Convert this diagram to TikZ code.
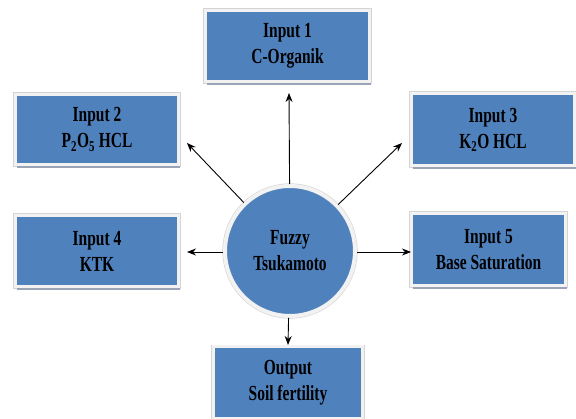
\documentclass[tikz,border=0pt]{standalone}
\usepackage{fontspec}
\setmainfont{Liberation Serif}
\newfontfamily\boxfont{Liberation Serif}[FakeStretch=0.72]
\usetikzlibrary{arrows.meta,shadows}
\definecolor{boxblue}{HTML}{4F81BD}
\definecolor{boxrim}{HTML}{F2F2F2}
\definecolor{rimedge}{HTML}{D4D4D4}
\definecolor{shadowgray}{HTML}{9AA4B6}
\tikzset{
  boxnode/.style={fill=boxblue, draw=boxrim, line width=3pt,
    preaction={draw=rimedge, line width=4.2pt},
    drop shadow={shadow xshift=1.5pt, shadow yshift=-4pt, fill=shadowgray, opacity=1},
    align=center, inner sep=0pt,
    font=\boxfont\bfseries\fontsize{21.5}{26}\selectfont},
  hubnode/.style={circle, fill=boxblue, draw=boxrim, line width=4pt,
    preaction={draw=rimedge, line width=5.2pt},
    minimum size=130pt, inner sep=0pt, align=center,
    font=\boxfont\bfseries\fontsize{21.5}{26}\selectfont},
  arr/.style={draw=black, line width=0.9pt, -{Stealth[length=9pt,width=7pt]}}
}
\begin{document}
\begin{tikzpicture}[x=1pt,y=-1pt]
\useasboundingbox (0,0) rectangle (576,419);
\node[boxnode, minimum width=164pt, minimum height=71pt] (in1) at (287.5,46) {Input 1\\C-Organik};
\node[boxnode, minimum width=163pt, minimum height=70pt] (in2) at (97,129.5) {Input 2\\P\textsubscript{2}O\textsubscript{5} HCL};
\node[boxnode, minimum width=163pt, minimum height=72pt] (in3) at (493,129.5) {Input 3\\K\textsubscript{2}O HCL};
\node[boxnode, minimum width=163pt, minimum height=71pt] (in4) at (97,251) {Input 4\\KTK};
\node[boxnode, minimum width=154pt, minimum height=72pt] (in5) at (488.5,249.5) {Input 5\\Base Saturation};
\node[boxnode, minimum width=149pt, minimum height=72pt] (out) at (288,383) {Output\\Soil fertility};
\node[hubnode] (hub) at (290,251) {Fuzzy\\Tsukamoto};
\coordinate (t1) at (289,93);
\coordinate (t2) at (187,143);
\coordinate (t3) at (402,143);
\coordinate (t4) at (187,252);
\coordinate (t5) at (411,252);
\coordinate (t6) at (288,345);
\draw[arr] (hub) -- (t1);
\draw[arr] (hub) -- (t2);
\draw[arr] (hub) -- (t3);
\draw[arr] (hub.west |- t4) -- (t4);
\draw[arr] (hub.east |- t5) -- (t5);
\draw[arr] (hub) -- (t6);
\end{tikzpicture}
\end{document}
